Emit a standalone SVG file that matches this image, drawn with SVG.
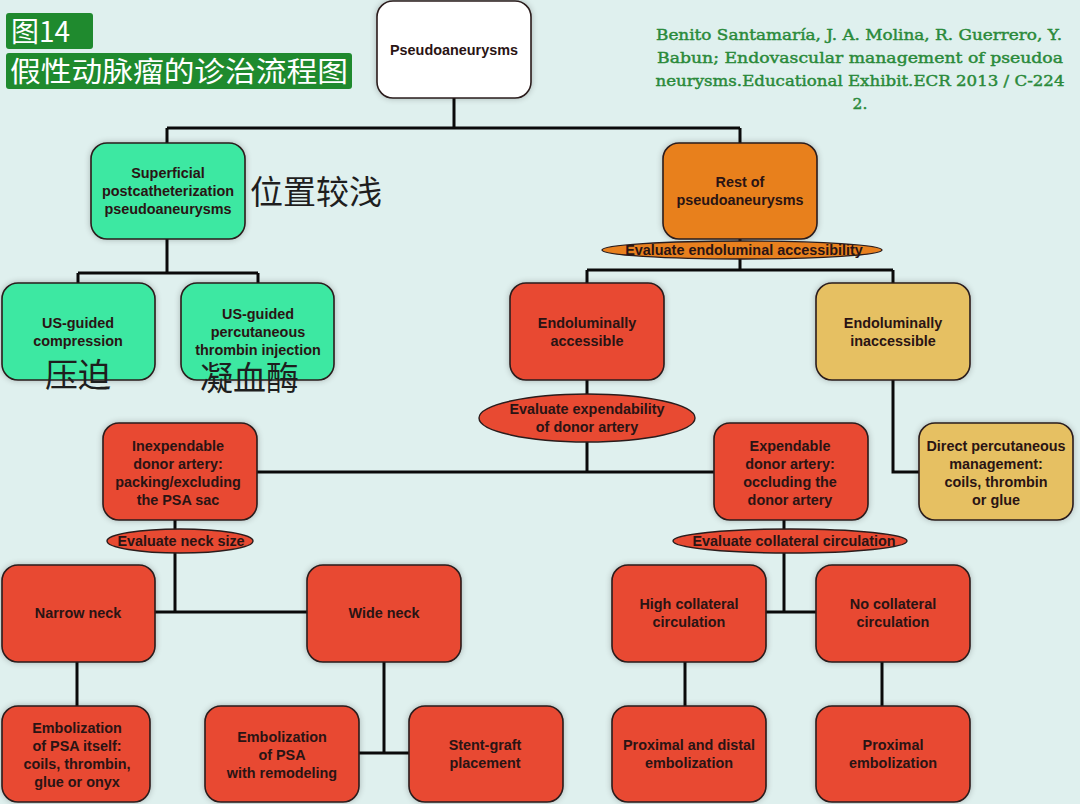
<svg xmlns="http://www.w3.org/2000/svg" width="1080" height="804" viewBox="0 0 1080 804">
<defs>
<filter id="sh" x="-10%" y="-10%" width="120%" height="120%"><feGaussianBlur in="SourceAlpha" stdDeviation="3"/><feOffset dx="0" dy="0"/><feComponentTransfer><feFuncA type="linear" slope="0.25"/></feComponentTransfer><feMerge><feMergeNode/><feMergeNode in="SourceGraphic"/></feMerge></filter>
</defs>
<style>
.box{stroke:#2a1c1c;stroke-width:1.6;filter:url(#sh)}
.white{fill:#ffffff}
.green{fill:#3de8a2}
.orange{fill:#e8801e}
.red{fill:#e84a32}
.yellow{fill:#e6c062}
.t{font-family:"Liberation Sans",Arial,sans-serif;font-weight:bold;font-size:14.4px;fill:#2a1414;text-anchor:middle}
.el{stroke:#2a1c1c;stroke-width:1.4}
.cn{font-family:"Noto Sans CJK SC",sans-serif;font-size:33px;fill:#1e1e1e}
.ln{stroke:#0a0a0a;stroke-width:3;fill:none}
.cite{font-family:"DejaVu Serif","Liberation Serif",serif;font-size:15.5px;fill:#2a8a3a;stroke:#2a8a3a;stroke-width:0.45;text-anchor:middle}
.tt{font-family:"Noto Sans CJK SC",sans-serif;font-size:28px;fill:#ffffff}
</style>
<rect width="1080" height="804" fill="#dff0ee"/>

<g id="title">
<rect x="6" y="13" width="87" height="36" rx="3" fill="#1f8a2e"/>
<text class="tt" x="11" y="42">图14</text>
<rect x="6" y="53" width="346" height="36" rx="3" fill="#1f8a2e"/>
<text class="tt" x="10" y="82" textLength="338" lengthAdjust="spacingAndGlyphs">假性动脉瘤的诊治流程图</text>
</g>

<g id="citation">
<text class="cite" x="859" y="40" textLength="406" lengthAdjust="spacingAndGlyphs">Benito Santamaría, J. A. Molina, R. Guerrero, Y.</text>
<text class="cite" x="860" y="63" textLength="406" lengthAdjust="spacingAndGlyphs">Babun; Endovascular management of pseudoa</text>
<text class="cite" x="860" y="86" textLength="409" lengthAdjust="spacingAndGlyphs">neurysms.Educational Exhibit.ECR 2013 / C-224</text>
<text class="cite" x="860" y="109">2.</text>
</g>

<g id="connectors">
<path class="ln" d="M454,98 V128 M167,128 H740 M167,128 V143 M740,128 V143"/>
<path class="ln" d="M167,239 V273 M78,273 H258 M78,273 V283 M258,273 V283"/>
<path class="ln" d="M740,239 V270 M587,270 H893 M587,270 V283 M893,270 V283"/>
<path class="ln" d="M893,380 V472 H919"/>
<path class="ln" d="M587,380 V472 M257,472 H714"/>
<path class="ln" d="M175,520 V612 M155,612 H307"/>
<path class="ln" d="M77,662 V706"/>
<path class="ln" d="M384,662 V753 M359,753 H409"/>
<path class="ln" d="M784,520 V612 M766,612 H816"/>
<path class="ln" d="M685,662 V706 M882,662 V706"/>
</g>

<g id="n-pseudo">
<rect class="box white" x="377" y="1" width="154" height="97" rx="16"/>
<text class="t" x="454" y="55">Pseudoaneurysms</text>
</g>

<g id="n-superficial">
<rect class="box green" x="91" y="143" width="154" height="96" rx="16"/>
<text class="t" x="168" y="178">Superficial</text>
<text class="t" x="168" y="196">postcatheterization</text>
<text class="t" x="168" y="214">pseudoaneurysms</text>
</g>
<g id="ann-shallow"><text class="cn" x="250" y="204">位置较浅</text></g>

<g id="n-compression">
<rect class="box green" x="2" y="283" width="153" height="97" rx="16"/>
<text class="t" x="78" y="328">US-guided</text>
<text class="t" x="78" y="346">compression</text>
</g>
<g id="ann-compress"><text class="cn" x="45" y="387">压迫</text></g>

<g id="n-thrombin">
<rect class="box green" x="181" y="283" width="153" height="97" rx="16"/>
<text class="t" x="258" y="319">US-guided</text>
<text class="t" x="258" y="337">percutaneous</text>
<text class="t" x="258" y="355">thrombin injection</text>
</g>
<g id="ann-thrombin"><text class="cn" x="200" y="390">凝血酶</text></g>

<g id="n-rest">
<rect class="box orange" x="663" y="143" width="154" height="96" rx="16"/>
<text class="t" x="740" y="187">Rest of</text>
<text class="t" x="740" y="205">pseudoaneurysms</text>
</g>
<g id="e-access">
<ellipse class="el orange" cx="742" cy="250" rx="140" ry="9"/>
<text class="t" x="744" y="255">Evaluate endoluminal accessibility</text>
</g>

<g id="n-accessible">
<rect class="box red" x="510" y="283" width="154" height="97" rx="16"/>
<text class="t" x="587" y="328">Endoluminally</text>
<text class="t" x="587" y="346">accessible</text>
</g>
<g id="n-inaccessible">
<rect class="box yellow" x="816" y="283" width="154" height="97" rx="16"/>
<text class="t" x="893" y="328">Endoluminally</text>
<text class="t" x="893" y="346">inaccessible</text>
</g>

<g id="e-expend">
<ellipse class="el red" cx="587" cy="418" rx="108" ry="24"/>
<text class="t" x="587" y="414">Evaluate expendability</text>
<text class="t" x="587" y="432">of donor artery</text>
</g>

<g id="n-direct">
<rect class="box yellow" x="919" y="423" width="154" height="97" rx="16"/>
<text class="t" x="996" y="451">Direct percutaneous</text>
<text class="t" x="996" y="469">management:</text>
<text class="t" x="996" y="487">coils, thrombin</text>
<text class="t" x="996" y="505">or glue</text>
</g>

<g id="n-inexpendable">
<rect class="box red" x="103" y="423" width="154" height="97" rx="16"/>
<text class="t" x="178" y="451">Inexpendable</text>
<text class="t" x="178" y="469">donor artery:</text>
<text class="t" x="178" y="487">packing/excluding</text>
<text class="t" x="178" y="505">the PSA sac</text>
</g>
<g id="n-expendable">
<rect class="box red" x="714" y="423" width="154" height="97" rx="16"/>
<text class="t" x="790" y="451">Expendable</text>
<text class="t" x="790" y="469">donor artery:</text>
<text class="t" x="790" y="487">occluding the</text>
<text class="t" x="790" y="505">donor artery</text>
</g>

<g id="e-neck">
<ellipse class="el red" cx="180" cy="541" rx="73" ry="12"/>
<text class="t" x="181" y="546">Evaluate neck size</text>
</g>
<g id="e-collateral">
<ellipse class="el red" cx="790" cy="541" rx="117" ry="12"/>
<text class="t" x="794" y="546">Evaluate collateral circulation</text>
</g>

<g id="n-narrow">
<rect class="box red" x="2" y="565" width="153" height="97" rx="16"/>
<text class="t" x="78" y="618">Narrow neck</text>
</g>
<g id="n-wide">
<rect class="box red" x="307" y="565" width="154" height="97" rx="16"/>
<text class="t" x="384" y="618">Wide neck</text>
</g>
<g id="n-high">
<rect class="box red" x="612" y="565" width="154" height="97" rx="16"/>
<text class="t" x="689" y="609">High collateral</text>
<text class="t" x="689" y="627">circulation</text>
</g>
<g id="n-nocoll">
<rect class="box red" x="816" y="565" width="154" height="97" rx="16"/>
<text class="t" x="893" y="609">No collateral</text>
<text class="t" x="893" y="627">circulation</text>
</g>

<g id="n-emb-itself">
<rect class="box red" x="2" y="706" width="148" height="96" rx="16"/>
<text class="t" x="77" y="733">Embolization</text>
<text class="t" x="77" y="751">of PSA itself:</text>
<text class="t" x="77" y="769">coils, thrombin,</text>
<text class="t" x="77" y="787">glue or onyx</text>
</g>
<g id="n-emb-remodel">
<rect class="box red" x="205" y="706" width="154" height="96" rx="16"/>
<text class="t" x="282" y="742">Embolization</text>
<text class="t" x="282" y="760">of PSA</text>
<text class="t" x="282" y="778">with remodeling</text>
</g>
<g id="n-stent">
<rect class="box red" x="409" y="706" width="154" height="96" rx="16"/>
<text class="t" x="485" y="750">Stent-graft</text>
<text class="t" x="485" y="768">placement</text>
</g>
<g id="n-prox-distal">
<rect class="box red" x="612" y="706" width="154" height="96" rx="16"/>
<text class="t" x="689" y="750">Proximal and distal</text>
<text class="t" x="689" y="768">embolization</text>
</g>
<g id="n-prox">
<rect class="box red" x="816" y="706" width="154" height="96" rx="16"/>
<text class="t" x="893" y="750">Proximal</text>
<text class="t" x="893" y="768">embolization</text>
</g>
</svg>
